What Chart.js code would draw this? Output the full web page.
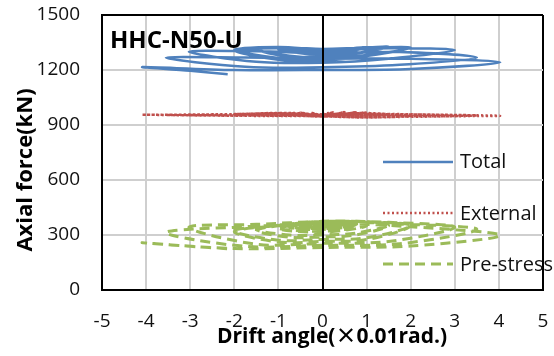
<!DOCTYPE html>
<html>
<head>
<meta charset="utf-8">
<script src="https://cdn.jsdelivr.net/npm/chart.js@4.4.0/dist/chart.umd.min.js"></script>
<style>
  html, body { margin: 0; padding: 0; background: #fff; }
  #wrap { width: 554px; height: 356px; }
</style>
</head>
<body>
<div id="wrap"><canvas id="c" width="554" height="356"></canvas></div>
<script>
// ---- data ----
const chartTitle = "HHC-N50-U";
const xTitleParts = ["Drift angle(", "×", "0.01rad.)"];
const yTitle = "Axial force(kN)";
const seriesNames = ["Total", "External", "Pre-stress"];
const xTickLabels = [-5, -4, -3, -2, -1, 0, 1, 2, 3, 4, 5];
const yTickLabels = [0, 300, 600, 900, 1200, 1500];

const drift = [0,
  0.25,0,-0.25,0, 0.25,0,-0.25,0,
  0.5,0,-0.5,0, 0.5,0,-0.5,0,
  0.75,0,-0.75,0, 0.75,0,-0.75,0,
  1,0,-1,0, 1,0,-1,0,
  0.75,1.5,0.75,0,-0.75,-1.5,-0.75,0,
  0.75,1.5,0.75,0,-0.75,-1.5,-0.75,0,
  1,2,1,0,-1,-2,-1,0,
  1,2,1,0,-1,-2,-1,0,
  1.5,3,1.5,0,-1.5,-3.03,-1.5,0,
  1.75,3.5,1.75,0,-1.75,-3.55,-1.75,0,
  2,4.03,2,0,-2,-4.08,-3,-2.15];

const total = [1290,
  1298,1292,1295,1290, 1300,1293,1296,1291,
  1306,1292,1300,1290, 1310,1293,1303,1292,
  1316,1290,1306,1296, 1318,1288,1308,1300,
  1322,1284,1312,1305, 1324,1282,1314,1308,
  1318,1326,1292,1270,1278,1315,1320,1312,
  1320,1326,1288,1264,1272,1312,1322,1315,
  1322,1322,1282,1258,1266,1310,1325,1312,
  1320,1320,1276,1250,1256,1306,1318,1305,
  1318,1309,1262,1240,1245,1300,1302,1292,
  1298,1268,1228,1215,1218,1267,1268,1262,
  1262,1242,1205,1200,1200,1216,1196,1177];

const external = [962,
  968,955,966,952, 970,954,967,951,
  970,952,968,950, 971,951,967,949,
  969,950,966,948, 970,949,965,948,
  968,948,964,947, 969,947,963,946,
  965,958,945,950,955,962,966,958,
  964,956,943,949,954,960,965,956,
  963,950,942,948,952,958,964,955,
  962,949,941,947,951,957,963,954,
  960,950,944,948,950,955,960,955,
  958,952,947,949,950,955,958,954,
  957,950,948,950,952,956,955,954];

const prestress = [355,
  360,348,352,362, 361,346,350,363,
  358,342,348,365, 357,340,346,366,
  355,335,345,368, 354,330,342,369,
  352,320,338,370, 350,315,335,372,
  372,355,310,300,300,330,360,374,
  372,352,300,290,288,325,358,375,
  372,352,285,276,272,322,355,374,
  370,350,275,265,262,318,352,373,
  369,342,265,255,250,342,358,372,
  360,331,252,244,238,313,345,362,
  345,298,240,232,226,258,238,225];

// ---- build chart ----
const pts = ys => drift.map((x, i) => ({ x: x, y: ys[i] }));
const FONT = "'Open Sans', 'DejaVu Sans', sans-serif";
const CJK = "'Noto Sans CJK JP', " + FONT;

const overlay = {
  id: 'overlay',
  afterDatasetsDraw(chart) {
    const ctx = chart.ctx, a = chart.chartArea, xs = chart.scales.x;
    const x0 = Math.round(xs.getPixelForValue(0));
    ctx.save();
    ctx.strokeStyle = '#000';
    ctx.lineWidth = 2;
    ctx.beginPath();
    ctx.moveTo(x0, a.top);
    ctx.lineTo(x0, a.bottom);
    ctx.stroke();
    ctx.restore();
  },
  afterDraw(chart) {
    const ctx = chart.ctx;
    ctx.save();
    ctx.fillStyle = '#000';
    // chart title inside plot
    ctx.font = "bold 24px " + FONT;
    ctx.textAlign = 'left';
    ctx.textBaseline = 'alphabetic';
    ctx.fillText(chartTitle, 110, 48);
    // x axis title (multiplication sign set in a CJK face, as in the original)
    const fonts = ["bold 21px " + FONT, "bold 21px " + CJK, "bold 21px " + FONT];
    const widths = xTitleParts.map((t, i) => { ctx.font = fonts[i]; return ctx.measureText(t).width; });
    let tx = 332 - widths.reduce((s, w) => s + w, 0) / 2;
    ctx.textAlign = 'left';
    xTitleParts.forEach((t, i) => { ctx.font = fonts[i]; ctx.fillText(t, tx, 343); tx += widths[i]; });
    // y axis title
    ctx.save();
    ctx.translate(32, 170);
    ctx.rotate(-Math.PI / 2);
    ctx.font = "bold 22px " + FONT;
    ctx.textAlign = 'center';
    ctx.fillText(yTitle, 0, 0);
    ctx.restore();
    // legend
    const rows = [162, 213, 264];
    const bases = [168, 220, 270.5];
    chart.data.datasets.forEach((ds, i) => {
      ctx.save();
      ctx.strokeStyle = ds.borderColor;
      ctx.lineWidth = ds.borderWidth;
      ctx.setLineDash(ds.borderDash || []);
      ctx.beginPath();
      ctx.moveTo(383, rows[i]);
      ctx.lineTo(453, rows[i]);
      ctx.stroke();
      ctx.restore();
      ctx.font = "20px " + FONT;
      ctx.textAlign = 'left';
      ctx.fillStyle = '#111';
      ctx.fillText(ds.label, 460, bases[i]);
    });
    ctx.restore();
  }
};

const gridColorX = c => (c.tick && (c.tick.value === 0 || c.tick.value === 5)) ? '#000' : '#cfcfcf';
const gridColorY = c => (c.tick && c.tick.value === 1500) ? '#000' : '#cfcfcf';

new Chart(document.getElementById('c'), {
  type: 'scatter',
  data: {
    datasets: [
      { label: seriesNames[0], data: pts(total), showLine: true, borderColor: '#4F81BD',
        borderWidth: 2.5, pointRadius: 0, tension: 0.35, fill: false },
      { label: seriesNames[1], data: pts(external), showLine: true, borderColor: '#C0504D',
        borderWidth: 2.5, borderDash: [2, 2.5], pointRadius: 0, tension: 0.35, fill: false },
      { label: seriesNames[2], data: pts(prestress), showLine: true, borderColor: '#9BBB59',
        borderWidth: 3, borderDash: [10, 6], pointRadius: 0, tension: 0.35, fill: false }
    ]
  },
  options: {
    responsive: false,
    animation: false,
    devicePixelRatio: 1,
    layout: { padding: { top: 15, right: 11, left: 0, bottom: 0 } },
    plugins: { legend: { display: false }, tooltip: { enabled: false } },
    scales: {
      x: {
        type: 'linear', min: -5, max: 5,
        afterBuildTicks: s => { s.ticks = xTickLabels.map(v => ({ value: v })); },
        afterFit: s => { s.height = 66; },
        grid: { color: gridColorX, lineWidth: 2, drawTicks: true, tickLength: 20, tickColor: 'rgba(0,0,0,0)' },
        border: { display: true, color: '#000', width: 2 },
        ticks: { font: { family: FONT, size: 19 }, color: '#111', padding: 0, maxRotation: 0,
                 callback: v => String(v) }
      },
      y: {
        type: 'linear', min: 0, max: 1500,
        afterBuildTicks: s => { s.ticks = yTickLabels.map(v => ({ value: v })); },
        afterFit: s => { s.width = 102; },
        grid: { color: gridColorY, lineWidth: 2, drawTicks: true, tickLength: 22, tickColor: 'rgba(0,0,0,0)' },
        border: { display: true, color: '#000', width: 2 },
        ticks: { font: { family: FONT, size: 19 }, color: '#111', padding: 0,
                 callback: v => String(v) }
      }
    }
  },
  plugins: [overlay]
});
</script>
</body>
</html>
